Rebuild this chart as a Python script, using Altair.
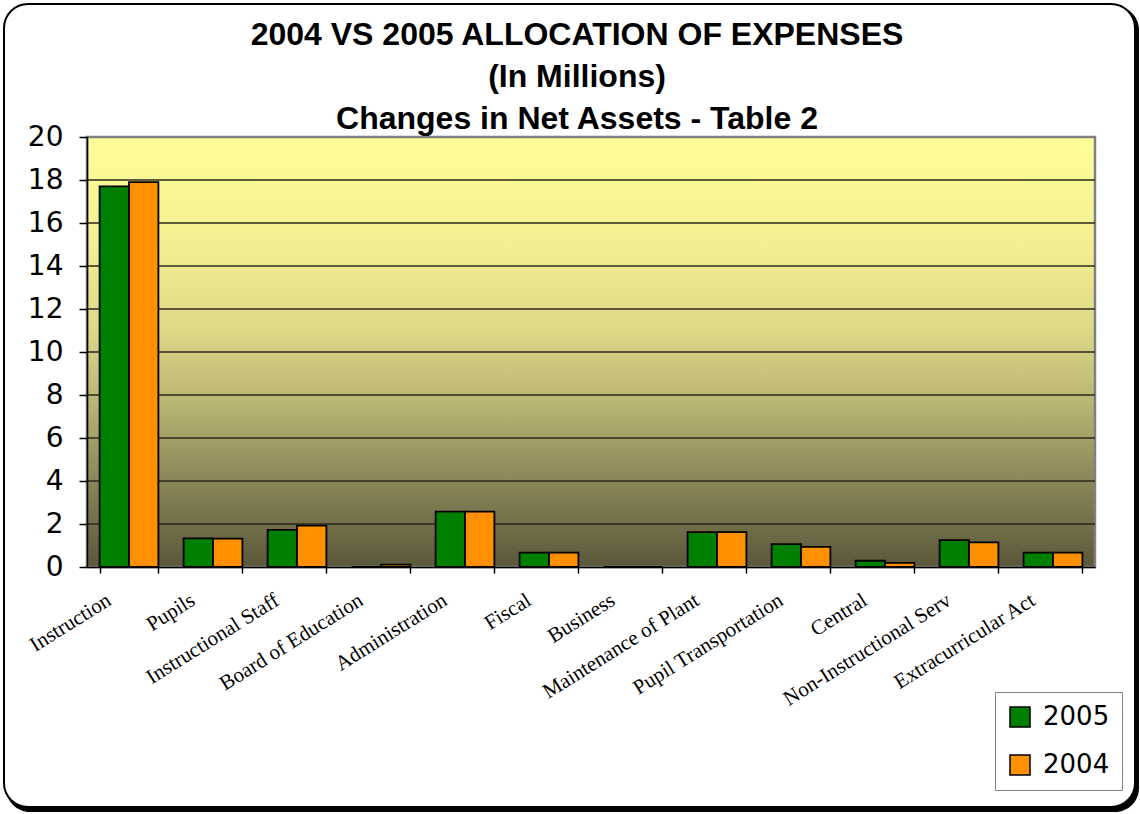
import altair as alt
import pandas as pd

CATEGORIES = ["Instruction", "Pupils", "Instructional Staff", "Board of Education",
              "Administration", "Fiscal", "Business", "Maintenance of Plant",
              "Pupil Transportation", "Central", "Non-Instructional Serv", "Extracurricular Act"]
VALUES_2005 = [17.7, 1.33, 1.73, 0.0, 2.58, 0.67, 0.0, 1.62, 1.06, 0.29, 1.25, 0.67]
VALUES_2004 = [17.9, 1.32, 1.92, 0.11, 2.58, 0.67, 0.0, 1.62, 0.94, 0.19, 1.15, 0.67]
SERIES = ["2005", "2004"]
COLORS = ["#008000", "#FF9100"]
Y_TICKS = list(range(0, 21, 2))
GRID_VALUES = list(range(2, 20, 2))
TITLE_LINES = ["2004 VS 2005 ALLOCATION OF EXPENSES", "(In Millions)",
               "Changes in Net Assets - Table 2"]

W, H = 1008, 430

rows = []
for c, a, b in zip(CATEGORIES, VALUES_2005, VALUES_2004):
    rows.append({"category": c, "year": "2005", "value": a})
    rows.append({"category": c, "year": "2004", "value": b})
df = pd.DataFrame(rows)

one = alt.Data(values=[{"k": 1}])

y_enc = alt.Y("value:Q", scale=alt.Scale(domain=[0, 20], nice=False),
              axis=alt.Axis(values=Y_TICKS, title=None, grid=False, zindex=2,
                            labelFont="DejaVu Sans", labelFontSize=28,
                            labelColor="black", tickSize=8, tickColor="black",
                            tickWidth=1.5, labelPadding=16, domainColor="black",
                            domainWidth=1.5))

x_enc = alt.X("category:N", sort=CATEGORIES,
              scale=alt.Scale(paddingInner=0.3, paddingOuter=0.15),
              axis=alt.Axis(title=None, labelAngle=-32, labelAlign="right", zindex=2,
                            labelBaseline="top", labelFont="Liberation Serif",
                            labelFontSize=21, labelColor="black", labelPadding=16,
                            labelOffset=-26, tickBand="extent", tickSize=6,
                            tickColor="black", tickWidth=1.5,
                            domainColor="black", domainWidth=1.5, labelLimit=400))

# outer rounded frame with shadow
shadow = alt.Chart(one).mark_rect(fill="black", cornerRadius=24).encode(
    x=alt.value(-81), x2=alt.value(1052), y=alt.value(-131), y2=alt.value(675))
frame = alt.Chart(one).mark_rect(fill="white", stroke="black", strokeWidth=2,
                                 cornerRadius=24).encode(
    x=alt.value(-83), x2=alt.value(1048), y=alt.value(-133), y2=alt.value(670))

bg = alt.Chart(one).mark_rect(
    fill=alt.Gradient(gradient="linear", x1=0, y1=0, x2=0, y2=1,
                      stops=[alt.GradientStop(color="#FFFF99", offset=0),
                             alt.GradientStop(color="#F2EF92", offset=0.25),
                             alt.GradientStop(color="#DCD886", offset=0.45),
                             alt.GradientStop(color="#B9B574", offset=0.62),
                             alt.GradientStop(color="#8A8658", offset=0.8),
                             alt.GradientStop(color="#5A583A", offset=1)]),
    stroke="#808080", strokeWidth=2.5
).encode(x=alt.value(0), x2=alt.value(W), y=alt.value(0), y2=alt.value(H))

grid = alt.Chart(pd.DataFrame({"value": GRID_VALUES})).mark_rule(
    color="#2A2818", strokeWidth=1.3).encode(y=y_enc, x=alt.value(0), x2=alt.value(W))

bars = alt.Chart(df).mark_bar(stroke="black", strokeWidth=1.8).encode(
    x=x_enc,
    xOffset=alt.XOffset("year:N", sort=SERIES),
    y=y_enc,
    color=alt.Color("year:N", sort=SERIES,
                    scale=alt.Scale(domain=SERIES, range=COLORS),
                    legend=alt.Legend(orient="none", legendX=908, legendY=555,
                                      title=None, symbolType="square",
                                      symbolSize=400, symbolStrokeColor="black",
                                      symbolStrokeWidth=1.5, symbolOpacity=1,
                                      labelFont="DejaVu Sans", labelFontSize=26,
                                      labelColor="black", padding=12, rowPadding=22,
                                      labelOffset=10, strokeColor="#808080",
                                      fillColor="white", zindex=3)),
)

title_y = [-92, -50, -8]
titles = [alt.Chart(one).mark_text(text=t, font="Liberation Sans", fontSize=32,
                                    fontWeight="bold", color="black",
                                    align="center", baseline="alphabetic").encode(
    x=alt.value(490), y=alt.value(yy)) for t, yy in zip(TITLE_LINES, title_y)]

chart = alt.layer(shadow, frame, bg, grid, bars, *titles).properties(
    width=W, height=H,
    autosize=alt.AutoSizeParams(type="none"),
    padding={"left": 87, "top": 137, "right": 45, "bottom": 247},
    background="white",
).configure_view(stroke=None)

chart.save("out.html", embed_options={"renderer": "svg", "actions": False})
